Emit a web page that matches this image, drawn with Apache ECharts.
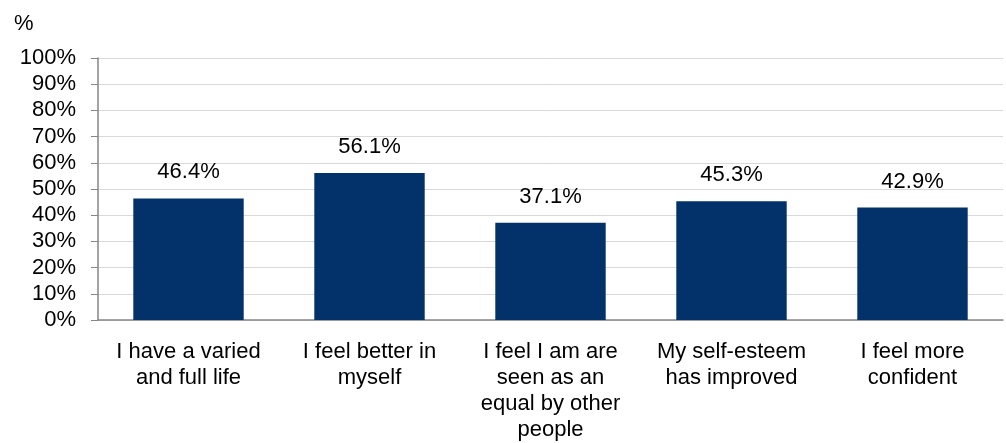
<!DOCTYPE html>
<html>
<head>
<meta charset="utf-8">
<script src="https://cdn.jsdelivr.net/npm/echarts@6/dist/echarts.min.js"></script>
<style>
  html, body { margin: 0; padding: 0; background: #fff; }
  #chart { width: 1006px; height: 443px; }
</style>
</head>
<body>
<div id="chart"></div>
<script>
// Survey outcomes: share of respondents agreeing with each statement
const categories = [
  'I have a varied\nand full life',
  'I feel better in\nmyself',
  'I feel I am are\nseen as an\nequal by other\npeople',
  'My self-esteem\nhas improved',
  'I feel more\nconfident'
];
const values = [46.4, 56.1, 37.1, 45.3, 42.9];

const font = '"Liberation Sans", Arial, sans-serif';
const chart = echarts.init(document.getElementById('chart'));
chart.setOption({
  animation: false,
  textStyle: { fontFamily: font },
  title: {
    text: '%',
    left: 9,
    top: 8,
    textStyle: { fontFamily: font, fontSize: 22, fontWeight: 'normal', color: '#000' }
  },
  grid: { left: 98, right: 3, top: 58, bottom: 123 },
  xAxis: {
    type: 'category',
    data: categories,
    axisLine: { lineStyle: { color: '#868686', width: 1.5 } },
    axisTick: { show: false },
    axisLabel: {
      color: '#000', fontSize: 22, lineHeight: 26, margin: 19,
      fontFamily: font, interval: 0
    }
  },
  yAxis: {
    type: 'value',
    min: 0,
    max: 100,
    interval: 10,
    axisLine: { show: true, lineStyle: { color: '#868686', width: 1.5 } },
    axisTick: { show: true, inside: false, length: 7, lineStyle: { color: '#868686' } },
    splitLine: { lineStyle: { color: '#d9d9d9', width: 1 } },
    axisLabel: {
      color: '#000', fontSize: 22, margin: 22, fontFamily: font,
      formatter: v => v + '%'
    }
  },
  series: [{
    type: 'bar',
    data: values,
    barCategoryGap: '39%',
    itemStyle: { color: '#03326a' },
    label: {
      show: true,
      position: 'top',
      distance: 15,
      color: '#000',
      fontSize: 22,
      fontFamily: font,
      formatter: p => p.value.toFixed(1) + '%'
    }
  }]
});
</script>
</body>
</html>
